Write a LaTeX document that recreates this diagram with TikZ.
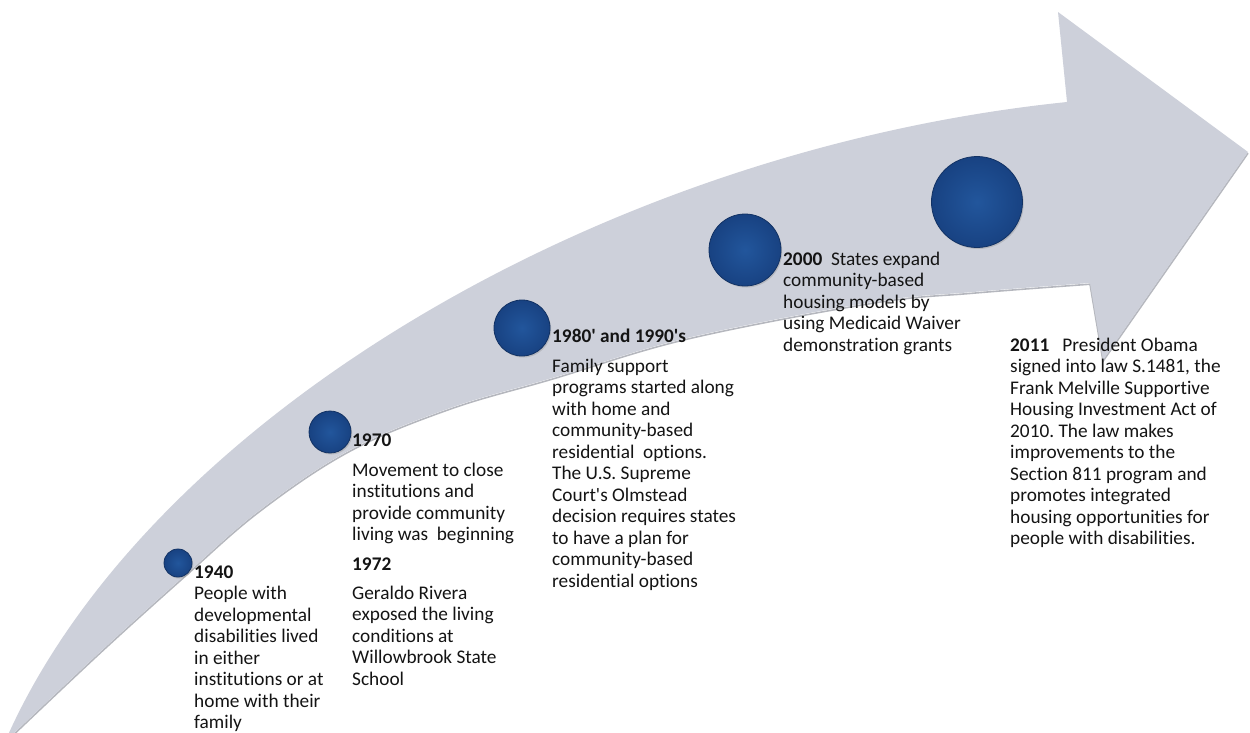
\documentclass[tikz,border=0pt]{standalone}
\usepackage{fontspec}
\setmainfont[Ligatures={NoCommon}]{Carlito}
\usetikzlibrary{shadows}
\definecolor{arrowfill}{RGB}{205,208,218}
\definecolor{arrowshade}{RGB}{150,153,162}
\definecolor{ballin}{RGB}{34,86,156}
\definecolor{ballout}{RGB}{24,66,130}
\definecolor{ballrim}{RGB}{18,50,100}
\definecolor{txtcol}{RGB}{20,20,20}
\newcommand{\fl}{\rule{0pt}{15pt}}
\newcommand{\ap}{\textquotesingle}
\frenchspacing
\begin{document}
\begin{tikzpicture}[x=1pt,y=-1pt,
  ball/.style={circle, minimum size=#1, inner sep=0pt, shade, inner color=ballin, outer color=ballout,
     draw=ballrim, line width=0.8pt, drop shadow={shadow xshift=1.2pt, shadow yshift=-1.5pt, opacity=0.3}},
  txt/.style={anchor=north west, inner sep=0pt, align=left, text=txtcol,
     font=\fontsize{19.3}{21.5}\selectfont}]
\useasboundingbox (0,0) rectangle (1250,732);
% arrow shadow
\draw[arrowshade, line width=1.6pt, opacity=0.7, yshift=-1.2pt]
  (1248,152) -- (1103,360) -- (1090,283) -- plot[smooth, tension=0.6] coordinates {(1090,283) (973,292) (873,302) (687,338) (552,378) (450,408) (350,450) (260,510) (183,577) (100,652) (12,735)};
% arrow body
\fill[arrowfill] (8,735) .. controls (150,420) and (600,150) .. (1067,102) -- (1058,12) -- (1248,152) -- (1103,360)
  -- plot[smooth, tension=0.6] coordinates {(1090,283) (973,292) (873,302) (687,338) (552,378) (450,408) (350,450) (260,510) (183,577) (100,652) (12,735)} -- cycle;
% balls
\node[ball=28pt] (b1940) at (178,563) {};
\node[ball=42pt] (b1970) at (330,432) {};
\node[ball=56pt] (b1980) at (522,328) {};
\node[ball=72pt] (b2000) at (745,250) {};
\node[ball=91pt] (b2011) at (977,202) {};
% texts
\node[txt] (t1940) at (194,563) {\fl\textbf{1940}\\People with\\developmental\\disabilities lived\\in either\\institutions or at\\home with their\\family};
\node[txt] (t1970) at (352,431) {\fl\textbf{1970}};
\node[txt] (d1970) at (352,461) {\fl Movement to close\\institutions and\\provide community\\living was\ \ beginning};
\node[txt] (t1972) at (352,555) {\fl\textbf{1972}};
\node[txt] (d1972) at (352,584) {\fl Geraldo Rivera\\exposed the living\\conditions at\\Willowbrook State\\School};
\node[txt] (t1980) at (552,327) {\fl\textbf{1980\ap{} and 1990\ap{}s}};
\node[txt] (d1980) at (552,357) {\fl Family support\\programs started along\\with home and\\community-based\\residential\ \ options.\\The U.S. Supreme\\Court\ap{}s Olmstead\\decision requires states\\to have a plan for\\community-based\\residential options};
\node[txt] (t2000) at (783,250) {\fl\textbf{2000}\ \ States expand\\community-based\\housing models by\\using Medicaid Waiver\\demonstration grants};
\node[txt] (t2011) at (1010,336) {\fl\textbf{2011}\ \ \ President Obama\\signed into law S.1481, the\\Frank Melville Supportive\\Housing Investment Act of\\2010. The law makes\\improvements to the\\Section 811 program and\\promotes integrated\\housing opportunities for\\people with disabilities.};
\end{tikzpicture}
\end{document}
